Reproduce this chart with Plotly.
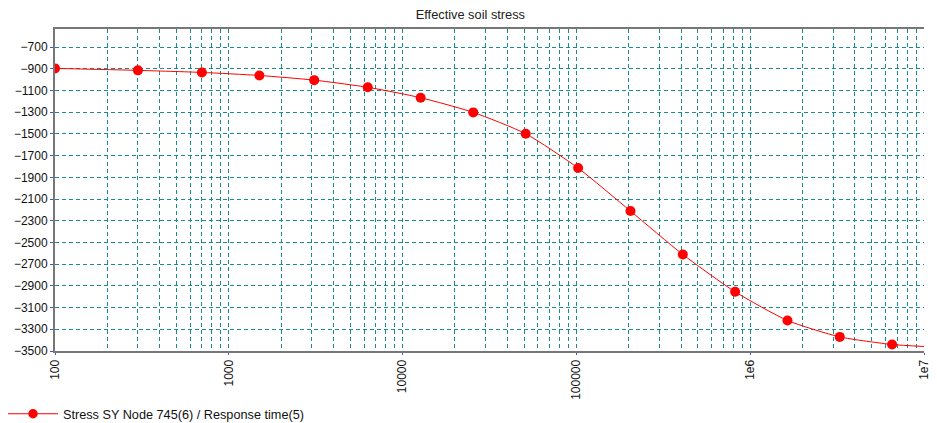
import plotly.graph_objects as go

# Data
response_time = [100, 300, 700, 1500, 3100, 6300, 12700, 25500, 51100, 102300,
                 204700, 409500, 819100, 1638300, 3276700, 6553500, 10000000]
stress_sy = [-897, -915, -934, -962, -1005, -1071, -1167, -1302, -1499, -1815,
             -2211, -2611, -2955, -3219, -3370, -3440, -3458]
series_name = "Stress SY Node 745(6) / Response time(5)"
chart_title = "Effective soil stress"

x_tick_vals = [1e2, 1e3, 1e4, 1e5, 1e6, 1e7]
x_tick_text = ["100", "1000", "10000", "100000", "1e6", "1e7"]
y_tick_vals = list(range(-3500, -699, 200))

# Styling
marker_sizes = [10] * (len(response_time) - 1) + [0]
minor_vals = [m * 10 ** e for e in range(2, 7) for m in range(2, 10)]
grid_color = "#1a8c8c"
font = dict(family="Liberation Sans, Arial, sans-serif", size=12, color="#111111")

fig = go.Figure()
fig.add_trace(go.Scatter(
    x=response_time, y=stress_sy, name=series_name,
    mode="lines+markers",
    line=dict(color="#ff0000", width=1, shape="spline", smoothing=0.6),
    marker=dict(color="#ff0000", size=marker_sizes, opacity=1,
                line=dict(width=0)),
))

fig.update_layout(
    width=937, height=423,
    margin=dict(l=55, r=13, t=29, b=72, autoexpand=False),
    paper_bgcolor="white", plot_bgcolor="white",
    font=font,
    title=dict(text=chart_title, x=0.502, xref="container", xanchor="center",
               y=1 - 14.5 / 423, yref="container", yanchor="middle",
               font=dict(size=12.8, color="#222222")),
    showlegend=True,
    legend=dict(orientation="h", xref="container", x=3 / 937, xanchor="left",
                yref="container", y=9 / 423, yanchor="middle",
                font=dict(size=12.7, color="#111111"), itemwidth=50,
                bgcolor="rgba(0,0,0,0)"),
)

fig.update_xaxes(
    type="log", range=[2, 7], automargin=False,
    tickmode="array", tickvals=x_tick_vals, ticktext=x_tick_text,
    tickangle=-90, ticks="outside", ticklen=2, tickcolor="#4455dd",
    showline=True, linecolor="#777777", linewidth=2, mirror=True,
    showgrid=True, gridcolor=grid_color, gridwidth=1, griddash="4px,3px",
    minor=dict(tickvals=minor_vals, showgrid=True, gridcolor=grid_color,
               gridwidth=1, griddash="4px,3px", ticks=""),
    zeroline=False,
)
fig.update_yaxes(
    range=[-3500, -534], automargin=False,
    tickmode="array", tickvals=y_tick_vals,
    ticks="outside", ticklen=3, tickcolor="#4455dd",
    showline=True, linecolor="#777777", linewidth=2, mirror=False,
    showgrid=True, gridcolor=grid_color, gridwidth=1, griddash="4px,3px",
    zeroline=False,
)

fig.write_html(
    "out.html",
    config={"displayModeBar": False},
    post_script="document.body.style.margin='0';document.body.style.overflow='hidden';",
)
